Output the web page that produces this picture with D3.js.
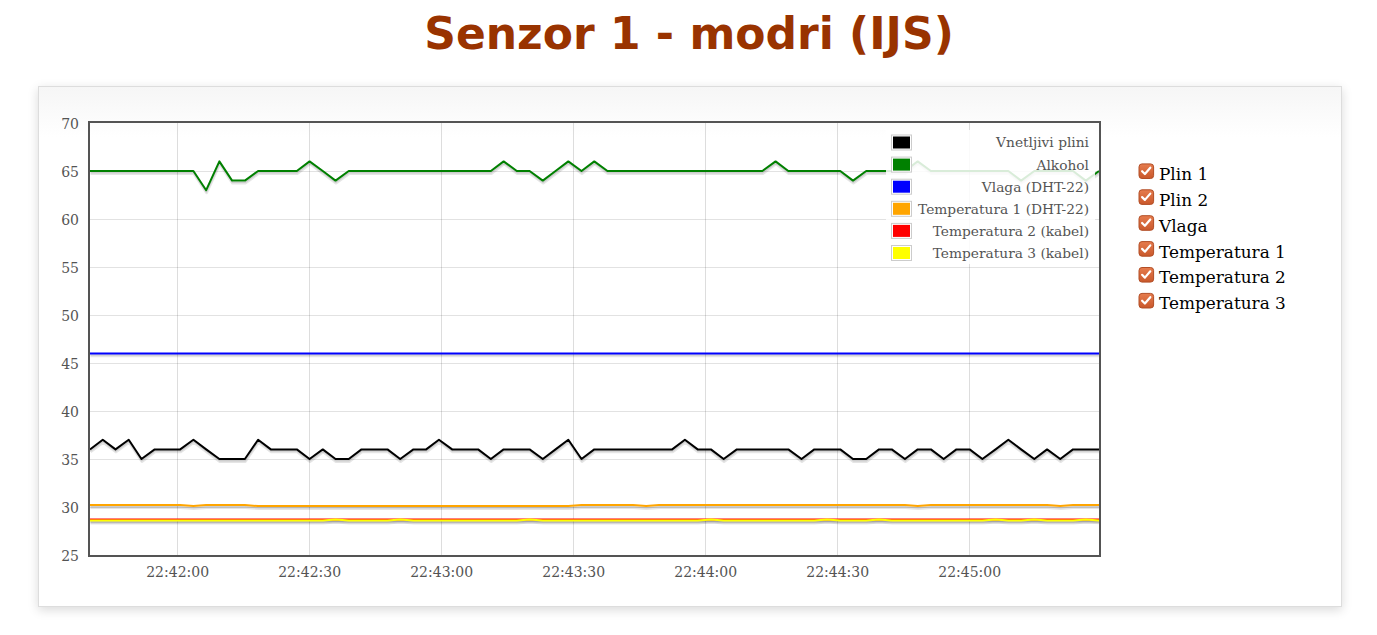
<!DOCTYPE html>
<html><head><meta charset="utf-8">
<script src="https://cdn.jsdelivr.net/npm/d3@7"></script>
<style>
body{margin:0;background:#fff;}
#box{position:absolute;left:38px;top:86px;width:1304px;height:521px;box-sizing:border-box;border:1px solid #ddd;background:linear-gradient(#f6f6f6 0,#fff 50px);box-shadow:0 3px 10px rgba(0,0,0,0.15);}
#chart{position:absolute;left:0;top:0;}
</style></head><body>
<div id="box"></div>
<svg id="chart" width="1377" height="635"></svg>
<script>
const titleText = "Senzor 1 - modri (IJS)";
const times = ["22:41:40.2","22:41:43.1","22:41:46.0","22:41:49.0","22:41:51.9","22:41:54.9","22:41:57.8","22:42:00.7","22:42:03.7","22:42:06.6",
"22:42:09.6","22:42:12.5","22:42:15.4","22:42:18.4","22:42:21.3","22:42:24.3","22:42:27.2","22:42:30.1","22:42:33.1","22:42:36.0",
"22:42:39.0","22:42:41.9","22:42:44.8","22:42:47.8","22:42:50.7","22:42:53.7","22:42:56.6","22:42:59.5","22:43:02.5","22:43:05.4",
"22:43:08.4","22:43:11.3","22:43:14.2","22:43:17.2","22:43:20.1","22:43:23.1","22:43:26.0","22:43:28.9","22:43:31.9","22:43:34.8",
"22:43:37.8","22:43:40.7","22:43:43.6","22:43:46.6","22:43:49.5","22:43:52.5","22:43:55.4","22:43:58.3","22:44:01.3","22:44:04.2",
"22:44:07.2","22:44:10.1","22:44:13.0","22:44:16.0","22:44:18.9","22:44:21.9","22:44:24.8","22:44:27.7","22:44:30.7","22:44:33.6",
"22:44:36.6","22:44:39.5","22:44:42.4","22:44:45.4","22:44:48.3","22:44:51.3","22:44:54.2","22:44:57.1","22:45:00.1","22:45:03.0",
"22:45:06.0","22:45:08.9","22:45:11.8","22:45:14.8","22:45:17.7","22:45:20.7","22:45:23.6","22:45:26.5","22:45:29.5"];
const plin1 = [36,37,36,37,35,36,36,36,37,36, 35,35,35,37,36,36,36,35,36,35, 35,36,36,36,35,36,36,37,36,36,
36,35,36,36,36,35,36,37,35,36, 36,36,36,36,36,36,37,36,36,35, 36,36,36,36,36,35,36,36,36,35,
35,36,36,35,36,36,35,36,36,35, 36,37,36,35,36,35,36,36,36];
const plin2 = [65,65,65,65,65,65,65,65,65,63, 66,64,64,65,65,65,65,66,65,64, 65,65,65,65,65,65,65,65,65,65,
65,65,66,65,65,64,65,66,65,66, 65,65,65,65,65,65,65,65,65,65, 65,65,65,66,65,65,65,65,65,64,
65,65,65,65,66,65,65,65,65,65, 65,65,64,65,65,65,65,64,65];
const vlaga = [46,46,46,46,46,46,46,46,46,46, 46,46,46,46,46,46,46,46,46,46, 46,46,46,46,46,46,46,46,46,46,
46,46,46,46,46,46,46,46,46,46, 46,46,46,46,46,46,46,46,46,46, 46,46,46,46,46,46,46,46,46,46,
46,46,46,46,46,46,46,46,46,46, 46,46,46,46,46,46,46,46,46];
const temp1 = [30.2,30.2,30.2,30.2,30.2,30.2,30.2,30.2,30.1,30.2, 30.2,30.2,30.2,30.1,30.1,30.1,30.1,30.1,30.1,30.1,
30.1,30.1,30.1,30.1,30.1,30.1,30.1,30.1,30.1,30.1, 30.1,30.1,30.1,30.1,30.1,30.1,30.1,30.1,30.2,30.2,
30.2,30.2,30.2,30.1,30.2,30.2,30.2,30.2,30.2,30.2, 30.2,30.2,30.2,30.2,30.2,30.2,30.2,30.2,30.2,30.2,
30.2,30.2,30.2,30.2,30.1,30.2,30.2,30.2,30.2,30.2, 30.2,30.2,30.2,30.2,30.2,30.1,30.2,30.2,30.2];
const temp2 = [28.7,28.7,28.7,28.7,28.7,28.7,28.7,28.7,28.7,28.7, 28.7,28.7,28.7,28.7,28.7,28.7,28.7,28.7,28.7,28.7,
28.7,28.7,28.7,28.7,28.7,28.7,28.7,28.7,28.7,28.7, 28.7,28.7,28.7,28.7,28.7,28.7,28.7,28.7,28.7,28.7,
28.7,28.7,28.7,28.7,28.7,28.7,28.7,28.7,28.7,28.7, 28.7,28.7,28.7,28.7,28.7,28.7,28.7,28.7,28.7,28.7,
28.7,28.7,28.7,28.7,28.7,28.7,28.7,28.7,28.7,28.7, 28.7,28.7,28.7,28.7,28.7,28.7,28.7,28.7,28.7];
const temp3 = [28.6,28.6,28.6,28.6,28.6,28.6,28.6,28.6,28.6,28.6, 28.6,28.6,28.6,28.6,28.6,28.6,28.6,28.6,28.6,28.7,
28.6,28.6,28.6,28.6,28.7,28.6,28.6,28.6,28.6,28.6, 28.6,28.6,28.6,28.6,28.7,28.6,28.6,28.6,28.6,28.6,
28.6,28.6,28.6,28.6,28.6,28.6,28.6,28.6,28.7,28.6, 28.6,28.6,28.6,28.6,28.6,28.6,28.6,28.7,28.6,28.6,
28.6,28.7,28.6,28.6,28.6,28.6,28.6,28.6,28.6,28.6, 28.7,28.6,28.6,28.7,28.6,28.6,28.6,28.7,28.6];
const seriesNames = ["Vnetljivi plini","Alkohol","Vlaga (DHT-22)","Temperatura 1 (DHT-22)","Temperatura 2 (kabel)","Temperatura 3 (kabel)"];
const seriesColors = ["#000000","#008000","#0000ff","#ffa500","#ff0000","#ffff00"];
const yTicks = [25,30,35,40,45,50,55,60,65,70];
const checkLabels = ["Plin 1","Plin 2","Vlaga","Temperatura 1","Temperatura 2","Temperatura 3"];

const seriesValues = [plin1, plin2, vlaga, temp1, temp2, temp3];
function parseT(s){const p=s.split(":");const sec=parseFloat(p[2]);return new Date(2020,0,1,+p[0],+p[1],0,0).getTime()+sec*1000;}
const tDates = times.map(s=>new Date(parseT(s)));

const svg = d3.select("#chart");
const M = {left:90, right:1099, top:123, bottom:555};
const x = d3.scaleTime().domain(d3.extent(tDates)).range([M.left, M.right]);
const y = d3.scaleLinear().domain([25,70]).range([M.bottom, M.top]);

// title
svg.append("text").attr("x",689).attr("y",49).attr("text-anchor","middle")
  .style("font-family","'DejaVu Sans', sans-serif").style("font-weight","bold").style("font-size","44px")
  .attr("fill","#993300").text(titleText);

const tickFont = "'DejaVu Serif', serif";
// grid
const xTicks = x.ticks(d3.timeSecond.every(30));
const grid = svg.append("g");
grid.selectAll("line.v").data(xTicks).join("line")
  .attr("x1",d=>Math.round(x(d))+0.5).attr("x2",d=>Math.round(x(d))+0.5)
  .attr("y1",M.top).attr("y2",M.bottom).attr("stroke","#545454").attr("stroke-opacity",0.2);
grid.selectAll("line.h").data(yTicks.filter(v=>v>25&&v<70)).join("line")
  .attr("x1",M.left).attr("x2",M.right)
  .attr("y1",d=>Math.round(y(d))+0.5).attr("y2",d=>Math.round(y(d))+0.5)
  .attr("stroke","#545454").attr("stroke-opacity",0.17);

// axes
const xAxis = d3.axisBottom(x).tickValues(xTicks).tickFormat(d3.timeFormat("%H:%M:%S")).tickSize(0).tickPadding(0);
const gx = svg.append("g").attr("transform",`translate(0,${M.bottom})`).call(xAxis);
gx.select(".domain").remove();
gx.selectAll("text").attr("dy",null).attr("y",21.5).style("font-family",tickFont).style("font-size","14px").attr("fill","#545454");
const yAxis = d3.axisLeft(y).tickValues(yTicks).tickSize(0).tickPadding(0);
const gy = svg.append("g").attr("transform",`translate(79,0)`).call(yAxis);
gy.select(".domain").remove();
gy.selectAll("text").attr("dy","0.36em").style("font-family",tickFont).style("font-size","14px").attr("fill","#545454");

// clip
svg.append("clipPath").attr("id","clip").append("rect")
  .attr("x",M.left).attr("y",M.top-4).attr("width",M.right-M.left).attr("height",M.bottom-M.top+8);
const lines = svg.append("g").attr("clip-path","url(#clip)");
const lineGen = d3.line().x((d,i)=>x(tDates[i])).y(d=>y(d));
const ang = Math.PI/18, lw=2, sw=3;
seriesValues.forEach((vals,si)=>{
  const dstr = lineGen(vals);
  lines.append("path").attr("d",dstr).attr("fill","none").attr("stroke","rgba(0,0,0,0.1)").attr("stroke-width",sw)
    .attr("stroke-linejoin","round").attr("transform",`translate(${Math.sin(ang)*(lw/2+sw/2)},${Math.cos(ang)*(lw/2+sw/2)})`);
  lines.append("path").attr("d",dstr).attr("fill","none").attr("stroke","rgba(0,0,0,0.1)").attr("stroke-width",sw/2)
    .attr("stroke-linejoin","round").attr("transform",`translate(${Math.sin(ang)*(lw/2+sw/4)},${Math.cos(ang)*(lw/2+sw/4)})`);
  lines.append("path").attr("d",dstr).attr("fill","none").attr("stroke",seriesColors[si]).attr("stroke-width",lw)
    .attr("stroke-linejoin","round");
});

// border
svg.append("rect").attr("x",M.left-1).attr("y",M.top-1).attr("width",M.right-M.left+2).attr("height",M.bottom-M.top+2)
  .attr("fill","none").attr("stroke","#545454").attr("stroke-width",2);

// legend
const lg = svg.append("g");
lg.append("rect").attr("x",886).attr("y",130).attr("width",209).attr("height",134).attr("fill","#fff").attr("fill-opacity",0.85);
const rowY = d3.scalePoint().domain(seriesNames).range([142.5,253]);
seriesNames.forEach((n,i)=>{
  const cy = rowY(n);
  lg.append("rect").attr("x",891.5).attr("y",cy-7.5).attr("width",20).attr("height",15).attr("fill","#fff").attr("stroke","#ccc");
  lg.append("rect").attr("x",893).attr("y",cy-6).attr("width",17).attr("height",12).attr("fill",seriesColors[i]);
  lg.append("text").attr("x",1089).attr("y",cy).attr("dy","0.36em").attr("text-anchor","end")
    .style("font-family",tickFont).style("font-size","13.75px").attr("fill","#545454").text(n);
});

// checkboxes
const defs = svg.append("defs");
const gr = defs.append("linearGradient").attr("id","cbg").attr("x1",0).attr("y1",0).attr("x2",0).attr("y2",1);
gr.append("stop").attr("offset","0").attr("stop-color","#e67c4e");
gr.append("stop").attr("offset","1").attr("stop-color","#c9582b");
const cbY = d3.scalePoint().domain(checkLabels).range([171.2,300.7]);
checkLabels.forEach(l=>{
  const cy = cbY(l);
  const g = svg.append("g").attr("transform",`translate(1138.5,${cy-7.8})`);
  g.append("rect").attr("x",0.5).attr("y",0.5).attr("width",14.6).attr("height",14.6).attr("rx",3)
    .attr("fill","url(#cbg)").attr("stroke","#b24e26");
  g.append("path").attr("d","M3.6,7.8 L6.4,10.6 L11.8,4.3").attr("fill","none").attr("stroke","#fff")
    .attr("stroke-width",2.2).attr("stroke-linecap","round").attr("stroke-linejoin","round");
  svg.append("text").attr("x",1159).attr("y",cy+8.6)
    .style("font-family",tickFont).style("font-size","16.9px").attr("fill","#000").text(l);
});
</script>
</body></html>
